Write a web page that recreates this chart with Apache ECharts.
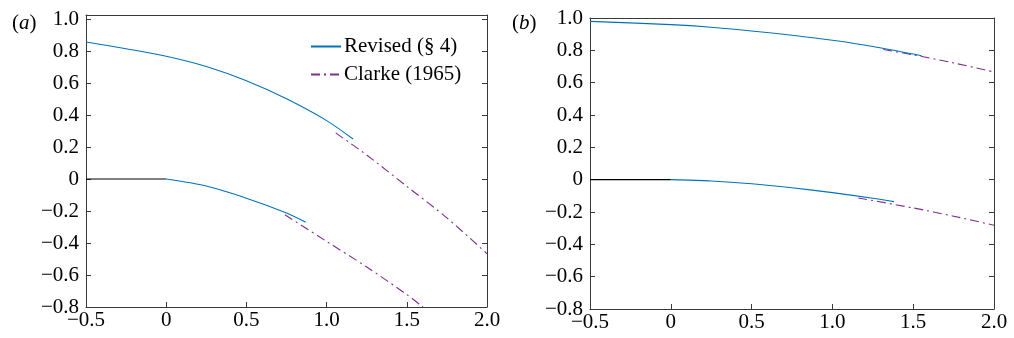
<!DOCTYPE html>
<html>
<head>
<meta charset="utf-8">
<script src="https://cdn.jsdelivr.net/npm/echarts@6/dist/echarts.min.js"></script>
<style>
  html, body { margin: 0; padding: 0; background: #fff; }
  #chart { width: 1014px; height: 338px; }
</style>
</head>
<body>
<div id="chart"></div>
<script>
// Tick positions shared by both panels
const xTicks = [-0.5, 0, 0.5, 1.0, 1.5, 2.0];
const yTicks = [-0.8, -0.6, -0.4, -0.2, 0, 0.2, 0.4, 0.6, 0.8, 1.0];

// Panel (a): upper and lower surfaces
const aUpperRevised = [[-0.5, 0.856], [-0.25, 0.814], [0, 0.767], [0.25, 0.703], [0.5, 0.614], [0.75, 0.501], [1.0, 0.365], [1.165, 0.25]];
const aUpperClarke  = [[1.057, 0.288], [1.25, 0.15], [1.5, -0.046], [1.75, -0.243], [2.0, -0.467]];
const aLowerFlat    = [[-0.5, 0], [0, 0]];
const aLowerRevised = [[0, 0], [0.25, -0.044], [0.5, -0.12], [0.75, -0.212], [0.87, -0.27]];
const aLowerClarke  = [[0.74, -0.223], [1.0, -0.39], [1.25, -0.55], [1.5, -0.722], [1.601, -0.8]];

// Panel (b): upper and lower surfaces
const bUpperRevised = [[-0.5, 0.979], [0, 0.959], [0.25, 0.943], [0.5, 0.92], [0.75, 0.893], [1.0, 0.862], [1.25, 0.824], [1.552, 0.767]];
const bUpperClarke  = [[1.315, 0.805], [1.5, 0.772], [1.75, 0.722], [2.0, 0.666]];
const bLowerFlat    = [[-0.5, 0], [0, 0]];
const bLowerRevised = [[0, 0], [0.25, -0.008], [0.5, -0.025], [0.75, -0.05], [1.0, -0.08], [1.25, -0.115], [1.381, -0.136]];
const bLowerClarke  = [[1.16, -0.113], [1.5, -0.175], [1.75, -0.226], [2.0, -0.282]];

const REVISED = 'Revised (§ 4)';
const CLARKE = 'Clarke (1965)';
const BLUE = '#0072BD';
const PURPLE = '#7E2F8E';
const AXIS = '#3a3a3a';
const FONT = 'Liberation Serif';

function fmt(v) {
  if (Math.abs(v) < 1e-9) return '0';
  return (v < 0 ? '\u2212' : '') + Math.abs(v).toFixed(1);
}

function mainX(gridIndex) {
  return {
    type: 'value', gridIndex, position: 'bottom', min: -0.5, max: 2.0,
    axisLine: { show: true, onZero: false, lineStyle: { color: AXIS, width: 1 } },
    axisTick: { show: true, inside: true, length: 5, customValues: xTicks, lineStyle: { color: AXIS } },
    axisLabel: { customValues: xTicks, formatter: fmt, margin: 3, color: '#000', fontFamily: FONT, fontSize: 21 },
    splitLine: { show: false }
  };
}
function topX(gridIndex) {
  return {
    type: 'value', gridIndex, position: 'top', min: -0.5, max: 2.0,
    axisLine: { show: true, onZero: false, lineStyle: { color: AXIS, width: 1 } },
    axisTick: { show: false }, axisLabel: { show: false }, splitLine: { show: false }
  };
}
function mainY(gridIndex, max) {
  return {
    type: 'value', gridIndex, position: 'left', min: -0.8, max,
    axisLine: { show: true, onZero: false, lineStyle: { color: AXIS, width: 1 } },
    axisTick: { show: true, inside: true, length: 5, customValues: yTicks, lineStyle: { color: AXIS } },
    axisLabel: { customValues: yTicks, formatter: fmt, margin: 7, color: '#000', fontFamily: FONT, fontSize: 21 },
    splitLine: { show: false }
  };
}
function rightY(gridIndex, max) {
  return {
    type: 'value', gridIndex, position: 'right', min: -0.8, max,
    axisLine: { show: true, onZero: false, lineStyle: { color: AXIS, width: 1 } },
    axisTick: { show: true, inside: true, length: 5, customValues: yTicks, lineStyle: { color: AXIS } },
    axisLabel: { show: false }, splitLine: { show: false }
  };
}

function curve(name, data, xi, yi, color, dashed) {
  return {
    type: 'line', name, data, xAxisIndex: xi, yAxisIndex: yi,
    symbol: 'none', smooth: 0.3, silent: true, clip: true,
    lineStyle: { color, width: 1.1, type: dashed ? [9, 4, 2, 4] : 'solid' },
    itemStyle: { color }
  };
}

const titleStyle = {
  fontFamily: FONT, fontSize: 21, fontWeight: 'normal', color: '#000',
  rich: { i: { fontFamily: FONT, fontSize: 21, fontStyle: 'italic', color: '#000' } }
};

const chart = echarts.init(document.getElementById('chart'), null, { renderer: 'canvas' });
chart.setOption({
  animation: false,
  backgroundColor: '#fff',
  title: [
    { text: '({i|a})', left: 7, top: 8, textStyle: titleStyle },
    { text: '({i|b})', left: 507, top: 8, textStyle: titleStyle }
  ],
  legend: {
    data: [REVISED, CLARKE],
    orient: 'vertical', left: 305, top: 31,
    itemWidth: 30, itemHeight: 12, itemGap: 7,
    itemStyle: { opacity: 0 },
    textStyle: { fontFamily: FONT, fontSize: 21, color: '#000', padding: [0, 0, 0, -2] },
    selectedMode: false
  },
  grid: [
    { left: 86, top: 15, width: 401, height: 292 },
    { left: 590, top: 18, width: 404, height: 291 }
  ],
  xAxis: [mainX(0), topX(0), mainX(1), topX(1)],
  yAxis: [mainY(0, 1.025), rightY(0, 1.025), mainY(1, 1.0), rightY(1, 1.0)],
  series: [
    curve('flat', aLowerFlat, 0, 0, '#000', false),
    curve(CLARKE, aUpperClarke, 0, 0, PURPLE, true),
    curve(CLARKE, aLowerClarke, 0, 0, PURPLE, true),
    curve(REVISED, aUpperRevised, 0, 0, BLUE, false),
    curve(REVISED, aLowerRevised, 0, 0, BLUE, false),
    curve('flat', bLowerFlat, 2, 2, '#000', false),
    curve(CLARKE, bUpperClarke, 2, 2, PURPLE, true),
    curve(CLARKE, bLowerClarke, 2, 2, PURPLE, true),
    curve(REVISED, bUpperRevised, 2, 2, BLUE, false),
    curve(REVISED, bLowerRevised, 2, 2, BLUE, false)
  ]
});
</script>
</body>
</html>
